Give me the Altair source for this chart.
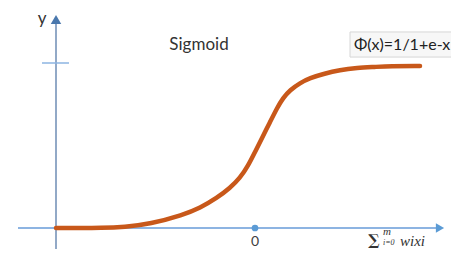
import altair as alt
import pandas as pd

# curve (x in units of the horizontal axis, 0 at the dot; y: 0 = baseline, 1 = tick)
curve_x = [-10.05, -8.85, -7.85, -6.6, -5.35, -3.7, -2.85, -2.0, -1.35, -0.85, -0.45, -0.1,
           0.25, 0.65, 1.0, 1.3, 1.65, 2.15, 2.65, 3.3, 4.15, 5.0, 5.9, 6.65, 8.15]
curve_y = [0.0, 0.0, 0.0, 0.006, 0.024, 0.079, 0.121, 0.182, 0.242, 0.303, 0.376, 0.461,
           0.545, 0.642, 0.727, 0.788, 0.836, 0.879, 0.909, 0.933, 0.958, 0.97, 0.976, 0.982, 0.982]

title_text = "Sigmoid"
formula_text = "Φ(x)=1/1+e-x"
y_label = "y"
zero_label = "0"

xs = alt.Scale(domain=[-12.45, 9.7], nice=False, zero=False)
ys = alt.Scale(domain=[-0.12727, 1.33333], nice=False, zero=False)

def X(f="x"):
    return alt.X(f, type="quantitative", scale=xs, axis=None)

def Y(f="y"):
    return alt.Y(f, type="quantitative", scale=ys, axis=None)

curve = alt.Chart(pd.DataFrame({"x": curve_x, "y": curve_y})).mark_line(
    color="#c8581a", strokeWidth=4.5, interpolate="basis", strokeCap="round"
).encode(x=X(), y=Y())

# axes
xaxis = alt.Chart(pd.DataFrame({"x": [-11.95], "x2": [8.95], "y": [0.0]})).mark_rule(
    color="#8db4e2", strokeWidth=2).encode(x=X(), x2="x2", y=Y())
yaxis = alt.Chart(pd.DataFrame({"x": [-10.05], "y": [-0.127], "y2": [1.236]})).mark_rule(
    color="#6e8db5", strokeWidth=1.5).encode(x=X(), y=Y(), y2="y2")
tick = alt.Chart(pd.DataFrame({"x": [-10.75], "x2": [-9.4], "y": [1.0]})).mark_rule(
    color="#8db4e2", strokeWidth=1.5).encode(x=X(), x2="x2", y=Y())

xarrow = alt.Chart(pd.DataFrame({"x": [9.15], "y": [0.0]})).mark_point(
    shape="triangle-right", filled=True, size=90, color="#5b9bd5", opacity=1).encode(x=X(), y=Y())
yarrow = alt.Chart(pd.DataFrame({"x": [-10.05], "y": [1.2636]})).mark_point(
    shape="triangle-up", filled=True, size=110, color="#4a78ad", opacity=1).encode(x=X(), y=Y())
dot = alt.Chart(pd.DataFrame({"x": [-0.1], "y": [0.0]})).mark_point(
    shape="circle", filled=True, size=45, color="#5b9bd5", opacity=1).encode(x=X(), y=Y())

# texts
ylab = alt.Chart(pd.DataFrame({"x": [-10.75], "y": [1.2667], "t": [y_label]})).mark_text(
    font="Lato", fontSize=17, color="#333333").encode(x=X(), y=Y(), text="t")
title = alt.Chart(pd.DataFrame({"x": [-2.9], "y": [1.109], "t": [title_text]})).mark_text(
    font="Lato", fontSize=17, color="#333333").encode(x=X(), y=Y(), text="t")
box = alt.Chart(pd.DataFrame({"x": [4.65], "x2": [10.5], "y": [1.036], "y2": [1.188]})).mark_rect(
    fill="#f7f7f7", stroke="#d6d6d6", strokeWidth=1).encode(x=X(), x2="x2", y=Y(), y2="y2")
formula = alt.Chart(pd.DataFrame({"x": [4.85], "y": [1.109], "t": [formula_text]})).mark_text(
    font="Lato", fontSize=16, color="#222222", align="left").encode(x=X(), y=Y(), text="t")
zero = alt.Chart(pd.DataFrame({"x": [-0.1], "y": [-0.085], "t": [zero_label]})).mark_text(
    font="Lato", fontSize=14, color="#404040").encode(x=X(), y=Y(), text="t")

sigma = alt.Chart(pd.DataFrame({"x": [5.85], "y": [-0.073], "t": ["∑"]})).mark_text(
    font="DejaVu Serif", fontSize=15, fontWeight="bold", color="#333333"
).encode(x=X(), y=Y(), text="t")
sup = alt.Chart(pd.DataFrame({"x": [6.3], "y": [-0.027], "t": ["m"]})).mark_text(
    font="Liberation Serif", fontStyle="italic", fontSize=11, color="#333333", align="left"
).encode(x=X(), y=Y(), text="t")
sub = alt.Chart(pd.DataFrame({"x": [6.3], "y": [-0.088], "t": ["i=0"]})).mark_text(
    font="Liberation Serif", fontStyle="italic", fontSize=8, color="#333333", align="left"
).encode(x=X(), y=Y(), text="t")
wixi = alt.Chart(pd.DataFrame({"x": [7.15], "y": [-0.076], "t": ["wixi"]})).mark_text(
    font="Liberation Serif", fontStyle="italic", fontSize=15, color="#333333", align="left"
).encode(x=X(), y=Y(), text="t")

chart = alt.layer(
    box, xaxis, yaxis, tick, xarrow, yarrow, curve, dot,
    ylab, title, formula, zero, sigma, sup, sub, wixi
).properties(
    width=443, height=241, autosize=alt.AutoSizeParams(type="none"), padding=0,
    background="white"
).configure_view(stroke=None)

chart.save("out.html", embed_options={"renderer": "svg", "actions": False})
